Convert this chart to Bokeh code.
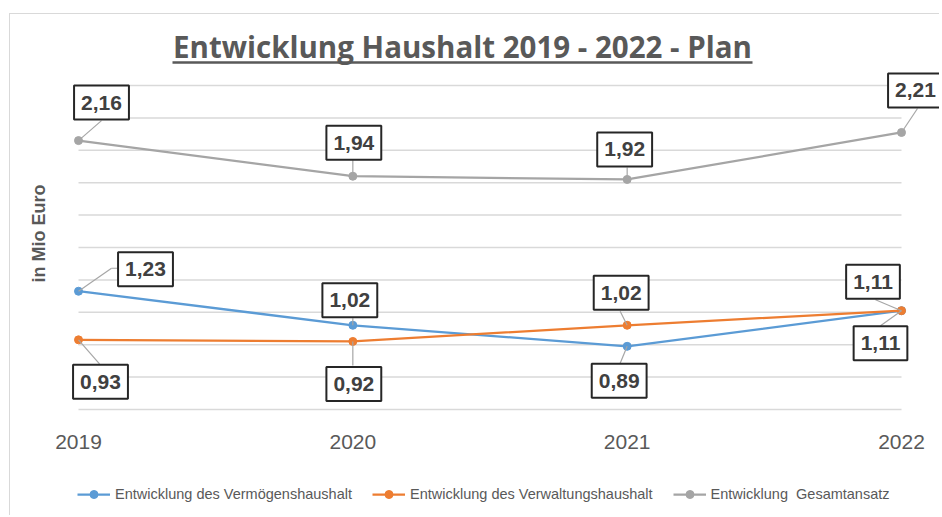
import math
from bokeh.plotting import figure
from bokeh.models import (Range1d, Label, Arrow, ColumnDataSource, Legend, LegendItem)
from bokeh.embed import file_html
from bokeh.resources import INLINE

# ---------------- data ----------------
years = [2019, 2020, 2021, 2022]
year_labels = ["2019", "2020", "2021", "2022"]
vermoegen = [1.23, 1.02, 0.89, 1.11]
verwaltung = [0.93, 0.92, 1.02, 1.11]
gesamt = [2.16, 1.94, 1.92, 2.21]
series_names = ["Entwicklung des Vermögenshaushalt",
                "Entwicklung des Verwaltungshaushalt",
                "Entwicklung  Gesamtansatz"]
y_grid_ticks = [0.5, 0.7, 0.9, 1.1, 1.3, 1.5, 1.7, 1.9, 2.1, 2.3, 2.5]
title_text = "Entwicklung Haushalt 2019 - 2022 - Plan"
y_label_text = "in Mio Euro"

# ---------------- styling / layout ----------------
colors = ["#5B9BD5", "#ED7D31", "#A5A5A5"]
OX, OY = 10, 14                 # canvas origin on the page (after css margin + border)
WIDTH, HEIGHT = 930, 502
AXIS_Y = 409                    # page y of the category axis
PLOT_LEFT, PLOT_RIGHT = 78, 901   # page x of first / last category
PXX = (PLOT_RIGHT - PLOT_LEFT) / 3.0
PXY = 162.0
Y_AXIS = 0.5
X_START = 2019 - (PLOT_LEFT - OX) / PXX
Y_TOP = Y_AXIS + (AXIS_Y - OY) / PXY
Y_START = Y_TOP - HEIGHT / PXY

# label box centre offset (px) and leader polyline (px, relative to point)
box_offsets = [
    [(67, -22), (-3, -25), (-8, 34.5), (-21, 32.5)],
    [(22, 42), (1, 42.5), (-6, -32.5), (-28.5, -29)],
    [(23, -38), (1, -33.5), (-2.5, -30), (14, -42)],
]
leaders = [
    [[(0, 0), (33, -23), (39, -23)], [(0, 0), (0, -7)], [(0, 0), (-7, 17)], [(0, 0), (-21, 15)]],
    [[(0, 0), (21, 24)], [(0, 0), (0, 24)], [(0, 0), (-7, -14)], [(0, 0), (-26, -11)]],
    [[(0, 0), (23, -20)], [(0, 0), (0, -16)], [(0, 0), (0, -12)], [(0, 0), (16, -24)]],
]


def page_to_data(px, py):
    return X_START + (px - OX) / PXX, Y_TOP - (py - OY) / PXY


p = figure(width=WIDTH, height=HEIGHT, output_backend="svg", toolbar_location=None,
           x_range=Range1d(X_START, X_START + WIDTH / PXX),
           y_range=Range1d(Y_START, Y_TOP),
           x_axis_location=None, y_axis_location=None,
           min_border=0)
p.styles = {"margin-left": "9px", "margin-top": "13px",
            "border-left": "1px solid #d9d9d9", "border-top": "1px solid #d9d9d9"}
p.outline_line_color = None
p.background_fill_color = "white"
p.border_fill_color = "white"
p.xgrid.grid_line_color = None
p.ygrid.grid_line_color = None

# horizontal gridlines (lowest one doubles as the category axis line)
p.segment(x0=years[0], x1=years[-1], y0=y_grid_ticks, y1=y_grid_ticks,
          line_color="#d9d9d9", line_width=1.5)

# category tick labels
_, ty_lab = page_to_data(0, 441)
p.text(x=years, y=[ty_lab] * len(years), text=year_labels,
       text_align="center", text_baseline="middle",
       text_font={"value": "Liberation Sans"}, text_font_size="21px",
       text_color="#595959")

all_series = [vermoegen, verwaltung, gesamt]
items = []
for s, (vals, col, name) in enumerate(zip(all_series, colors, series_names)):
    src = ColumnDataSource(dict(x=years, y=vals))
    ln = p.line("x", "y", source=src, line_color=col, line_width=2.25)
    sc = p.scatter("x", "y", source=src, size=8, fill_color=col, line_color=col)
    items.append(LegendItem(label=name, renderers=[ln, sc]))

# leader lines
lx0, ly0, lx1, ly1 = [], [], [], []
for s, vals in enumerate(all_series):
    for i, (xv, yv) in enumerate(zip(years, vals)):
        pts = leaders[s][i]
        for (ax, ay), (bx, by) in zip(pts[:-1], pts[1:]):
            lx0.append(xv + ax / PXX); ly0.append(yv - ay / PXY)
            lx1.append(xv + bx / PXX); ly1.append(yv - by / PXY)
lsrc = ColumnDataSource(dict(x0=lx0, y0=ly0, x1=lx1, y1=ly1))
p.add_layout(Arrow(start=None, end=None, x_start="x0", y_start="y0", x_end="x1", y_end="y1",
                   source=lsrc, line_color="#a6a6a6", line_width=1.2))

# data labels
for s, vals in enumerate(all_series):
    for i, (xv, yv) in enumerate(zip(years, vals)):
        dx, dy = box_offsets[s][i]
        p.add_layout(Label(x=xv, y=yv, x_offset=dx, y_offset=-dy,
                           text=f"{yv:.2f}".replace(".", ","),
                           text_align="center", text_baseline="middle",
                           text_font="Liberation Sans", text_font_style="bold",
                           text_font_size="21px", text_color="#404040",
                           background_fill_color="white",
                           border_line_color="#262626", border_line_width=2,
                           padding=(7, 10)))

# title + underline
tx, ty = page_to_data(462, 46)
p.add_layout(Label(x=tx, y=ty, text=title_text, text_align="center",
                   text_baseline="middle", text_font="Open Sans",
                   text_font_style="bold", text_font_size="29.5px", text_color="#595959"))
ux0, uy = page_to_data(172, 62)
ux1, _ = page_to_data(752, 62)
p.add_layout(Arrow(start=None, end=None, x_start=ux0, y_start=uy, x_end=ux1, y_end=uy,
                   line_color="#595959", line_width=2.5))

# y label
yx, yy = page_to_data(38, 233)
p.add_layout(Label(x=yx, y=yy, text=y_label_text, angle=math.pi / 2,
                   text_align="center", text_baseline="middle",
                   text_font="Liberation Sans", text_font_style="bold",
                   text_font_size="18px", text_color="#595959"))

# legend (frame covers the whole canvas; location is from frame bottom-left)
legend = Legend(items=items, orientation="horizontal",
                location=(77 - OX, (OY + HEIGHT) - 504),
                padding=0, margin=0, spacing=20, glyph_width=33, glyph_height=20,
                label_standoff=5, border_line_color=None, background_fill_alpha=0,
                label_text_font="Liberation Sans", label_text_font_size="14.5px",
                label_text_color="#595959")
p.add_layout(legend)

open("out.html", "w").write(file_html(p, INLINE))
